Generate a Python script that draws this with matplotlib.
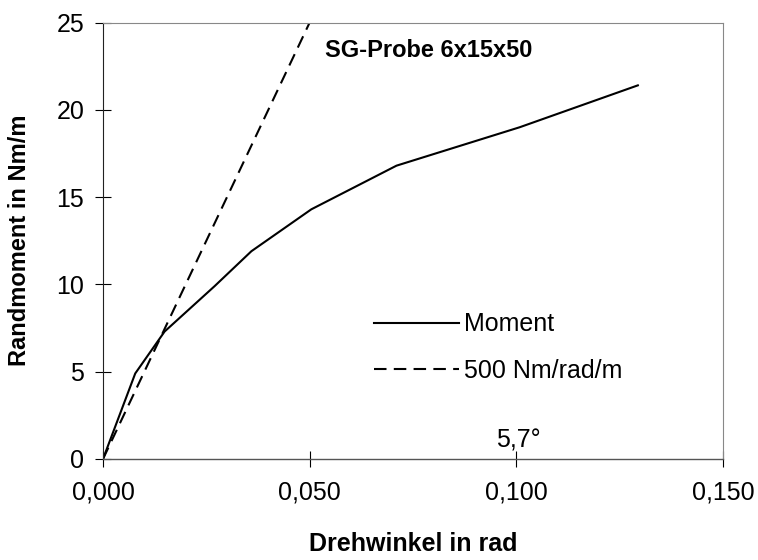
import matplotlib
matplotlib.use("Agg")
import matplotlib.pyplot as plt

plt.rcParams['font.family'] = ['Liberation Sans', 'DejaVu Sans']

# Data
moment_x = [0.000, 0.0078, 0.0149, 0.0270, 0.0359, 0.0504, 0.0710, 0.1008, 0.1294]
moment_y = [0.0, 4.9, 7.3, 9.9, 11.9, 14.3, 16.8, 19.0, 21.4]
stiffness = 500  # Nm/rad/m
lin_x = [0.0, 0.05]
x_ticks = [0.0, 0.05, 0.10, 0.15]
x_tick_labels = ["0,000", "0,050", "0,100", "0,150"]
y_ticks = [0, 5, 10, 15, 20, 25]

W, H = 758, 560
fig = plt.figure(figsize=(W/100, H/100), dpi=100)
ax = fig.add_axes([103/W, 1-459/H, 620/W, 436.5/H])

ax.plot(moment_x, moment_y, color='black', lw=1.5, label='Moment')
ax.plot(lin_x, [stiffness*v for v in lin_x], color='black', lw=1.5,
        ls=(0, (6, 3.5)), label='500 Nm/rad/m')

ax.set_xlim(0, 0.15)
ax.set_ylim(0, 25)
ax.set_xticks(x_ticks)
ax.set_xticklabels(x_tick_labels)
ax.set_yticks(y_ticks)
ax.tick_params(direction='inout', length=11, width=0.8, labelsize=18)
ax.tick_params(axis='y', pad=8)
ax.tick_params(axis='x', pad=10)
for s in ['top', 'right']:
    ax.spines[s].set_color('#888888')
    ax.spines[s].set_linewidth(0.8)
ax.spines['left'].set_color('#222222')
ax.spines['left'].set_linewidth(0.8)
ax.spines['bottom'].set_color('#555555')
ax.spines['bottom'].set_linewidth(1.0)

ax.set_xlabel('Drehwinkel in rad', fontsize=18, fontweight='bold')
ax.set_ylabel('Randmoment in Nm/m', fontsize=17, fontweight='bold')
ax.xaxis.set_label_coords(0.5, -0.168)
ax.yaxis.set_label_coords(-0.116, 0.5)

ax.text(0.0536, 23.4, 'SG-Probe 6x15x50', fontsize=17, fontweight='bold',
        ha='left', va='center')
ax.text(0.1005, 0.35, '5,7°', fontsize=18, ha='center', va='bottom')

leg = ax.legend(loc='center left', bbox_to_anchor=(0.401, 0.255), frameon=False,
                fontsize=18, handlelength=3.4, handletextpad=0.2,
                labelspacing=0.9)

fig.savefig('out.png', dpi=100)
